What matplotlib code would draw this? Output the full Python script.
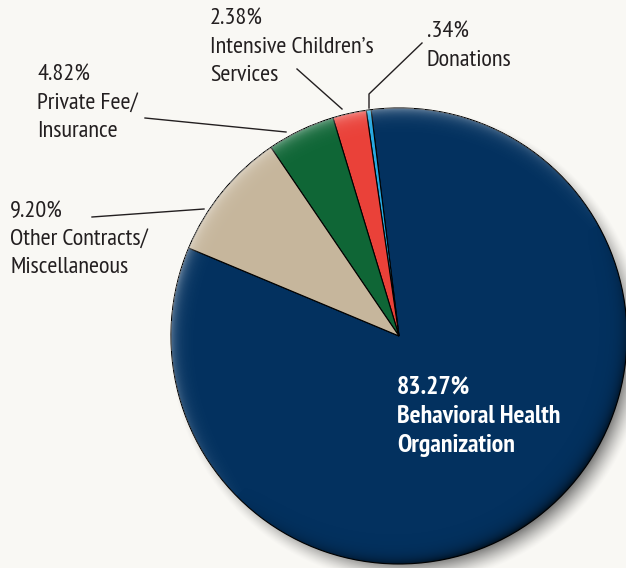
import numpy as np
from matplotlib import pyplot as plt

# revenue sources, in the order drawn counterclockwise from the navy slice
labels = ['Behavioral Health\nOrganization', 'Donations', "Intensive Children\u2019s\nServices",
          'Private Fee/\nInsurance', 'Other Contracts/\nMiscellaneous']
pct_text = ['83.27%', '.34%', '2.38%', '4.82%', '9.20%']
shares = [83.27, 0.34, 2.38, 4.82, 9.20]
colors = ['#03315f', '#27a9e1', '#ea4139', '#0f6636', '#c6b69c']

W, H = 626, 568
BG = '#f9f8f4'
cx, cy, R = 399, H - 336, 228
font = ['PT Sans Narrow', 'Roboto Condensed', 'DejaVu Sans']

fig = plt.figure(figsize=(W / 100, H / 100), dpi=100, facecolor=BG)
ax = fig.add_axes([0, 0, 1, 1])
ax.set_facecolor(BG)

# soft drop shadow
xx, yy = np.meshgrid(np.arange(W) + 0.5, np.arange(H) + 0.5)
d_sh = np.hypot(xx - (cx + 9), yy - (cy - 10))
sh_alpha = 0.7 * np.clip((R + 10 - d_sh) / 22, 0, 1) ** 1.4
shadow = np.zeros((H, W, 4))
shadow[..., :3] = 0.3
shadow[..., 3] = sh_alpha
ax.imshow(shadow, extent=(0, W, 0, H), origin='lower', zorder=0, interpolation='bilinear')

wedges, _ = ax.pie(shares, colors=colors, startangle=157.3, counterclock=True,
                   center=(cx, cy), radius=R, frame=True,
                   wedgeprops={'edgecolor': 'black', 'linewidth': 0.8})
for w in wedges:
    w.set_zorder(2)

# bevel shading along the rim
d = np.hypot(xx - cx, yy - cy)
rim = R - d
inside = rim > 0
ux = (xx - cx) / np.maximum(d, 1)
uy = (yy - cy) / np.maximum(d, 1)
light = (-ux * 0.6 + uy * 0.8)
edge = np.exp(-np.clip(rim, 0, None) / 6.0) * inside
bevel = np.zeros((H, W, 4))
hi = np.clip(light + 0.2, 0, 1) * edge * 0.4
lo = np.clip(-light - 0.1, 0, 1) * edge * 0.8
bevel[..., :3] = np.where((hi > lo)[..., None], 1.0, 0.0)
bevel[..., 3] = np.maximum(hi, lo)
ax.imshow(bevel, extent=(0, W, 0, H), origin='lower', zorder=3, interpolation='bilinear')

ax.set_xlim(0, W)
ax.set_ylim(0, H)
ax.axis('off')

# labels (pixel positions, y measured from the top)
label_pos = {1: (427, 22), 2: (210, 9), 3: (37, 65), 4: (10, 201)}
for i, (x, y) in label_pos.items():
    ax.text(x, H - y, pct_text[i] + '\n' + labels[i], ha='left', va='top',
            fontsize=17.5, family=font, color='#231f20', linespacing=1.45, zorder=5)

ax.text(397, H - 376, pct_text[0] + '\n' + labels[0], ha='left', va='top',
        fontsize=18.5, family=font, fontweight='bold', color='white',
        linespacing=1.32, zorder=5)

# leader lines
leaders = [([422, 369, 369], [43, 94, 108]),
           ([297, 342], [69, 109]),
           ([145, 286], [118, 132]),
           ([92, 204], [217, 209])]
for lx, ly in leaders:
    ax.plot(lx, [H - v for v in ly], color='#231f20', lw=1.0, zorder=5)

fig.savefig('out.png', dpi=100, facecolor=BG)
